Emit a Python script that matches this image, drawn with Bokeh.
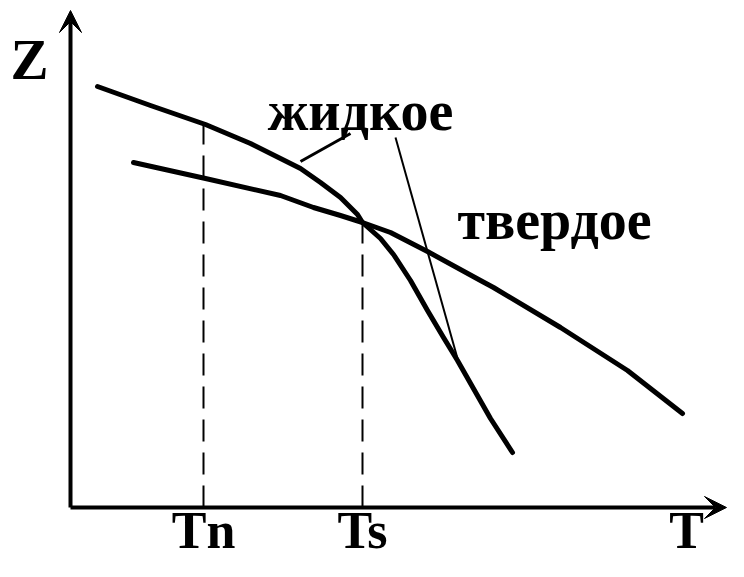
import numpy as np
from bokeh.plotting import figure
from bokeh.models import Range1d, Arrow, VeeHead
from bokeh.core.properties import value
from bokeh.embed import file_html
from bokeh.resources import INLINE

# ---- data (T, Z in chart units) ----
liquid_T = [97, 150, 205, 250, 280, 300, 320, 340, 357, 362, 380, 393, 410, 427, 443, 457, 490, 512]
liquid_Z = [491, 472, 453, 434, 419, 409, 395, 380, 363, 355, 339, 323, 297, 267, 240, 217, 159, 125]

solid_T = [133, 205, 280, 313, 340, 362, 390, 427, 480, 493, 560, 627, 682]
solid_Z = [415, 399, 382, 370, 362, 355, 345, 326, 297, 290, 250, 207, 164]

tick_T = [203, 362]
tick_labels = ["Tn", "Ts"]
tick_label_Z = [47, 47]

axis_names = ["Z", "T"]
axis_name_T = [29, 686]
axis_name_Z = [518, 47]

phase_labels = ["жидкое", "твердое"]
phase_label_T = [360, 554]
phase_label_Z = [467, 358]

# pointer lines (label -> liquid curve)
pointer1_T = [300, 350]
pointer1_Z = [416, 444]
pointer2_T = [395, 457]
pointer2_Z = [440, 219]

origin_T, origin_Z = 70, 70
T_max = 726
Z_max = 567

FONT = value("Liberation Serif")

p = figure(width=728, height=561, x_range=Range1d(0, 728), y_range=Range1d(16, 577),
           output_backend="svg", toolbar_location=None, min_border=0)
p.axis.visible = False
p.grid.visible = False
p.outline_line_color = None
p.background_fill_color = "white"
p.border_fill_color = "white"

# axes with arrows
for xe, ye in [(origin_T, Z_max), (T_max, origin_Z)]:
    p.add_layout(Arrow(end=VeeHead(size=22, fill_color="black", line_color="black", line_width=1),
                       x_start=origin_T, y_start=origin_Z, x_end=xe, y_end=ye,
                       line_width=4, line_color="black"))

# dashed guide lines
for t in tick_T:
    ztop = float(np.interp(t, liquid_T, liquid_Z))
    p.line([t, t], [origin_Z, ztop], line_dash="22 11", line_width=2, line_color="black")

# curves
p.line(liquid_T, liquid_Z, line_width=5, line_color="black", line_cap="round", line_join="round")
p.line(solid_T, solid_Z, line_width=5, line_color="black", line_cap="round", line_join="round")

# pointer lines
p.line(pointer1_T, pointer1_Z, line_width=3, line_color="black")
p.line(pointer2_T, pointer2_Z, line_width=2, line_color="black")

common = dict(text_font=FONT, text_font_style="bold", text_align="center",
              text_baseline="alphabetic", text_color="black")
p.text(x=tick_T, y=tick_label_Z, text=tick_labels, text_font_size="52px", **common)
p.text(x=[axis_name_T[0]], y=[axis_name_Z[0]], text=[axis_names[0]], text_font_size="57px", **common)
p.text(x=[axis_name_T[1]], y=[axis_name_Z[1]], text=[axis_names[1]], text_font_size="52px", **common)
p.text(x=phase_label_T, y=phase_label_Z, text=phase_labels, text_font_size="56px", **common)

open("out.html", "w").write(file_html(p, INLINE))
